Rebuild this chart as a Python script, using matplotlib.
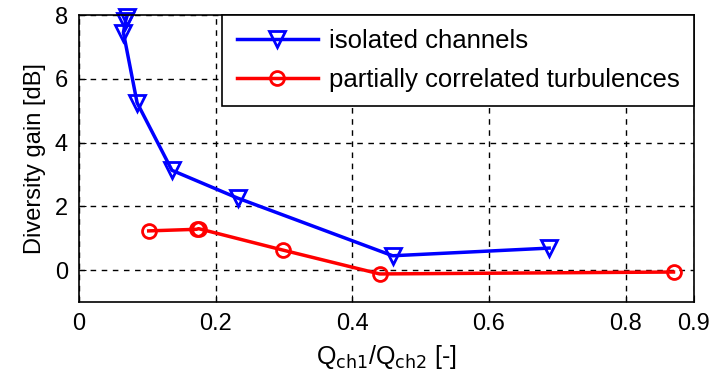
import matplotlib
matplotlib.use("Agg")
import matplotlib.pyplot as plt

# Data
iso_x = [0.070, 0.068, 0.065, 0.085, 0.136, 0.232, 0.459, 0.688]
iso_y = [7.95, 7.80, 7.45, 5.25, 3.13, 2.26, 0.45, 0.69]
cor_x = [0.102, 0.172, 0.175, 0.298, 0.440, 0.870]
cor_y = [1.23, 1.28, 1.30, 0.63, -0.12, -0.06]

xticks = [0, 0.2, 0.4, 0.6, 0.8, 0.9]
xticklabels = ["0", "0.2", "0.4", "0.6", "0.8", "0.9"]
yticks = [0, 2, 4, 6, 8]

plt.rcParams['font.family'] = ['Liberation Sans', 'DejaVu Sans']
fig = plt.figure(figsize=(7.12, 3.85), dpi=100)
ax = fig.add_axes([79/712, 1 - 302/385, (694-79)/712, (302-15)/385])

ax.plot(iso_x, iso_y, color='blue', lw=2.5, marker='v', ms=12, mfc='none',
        mec='blue', mew=2, label='isolated channels', clip_on=False)
ax.plot(cor_x, cor_y, color='red', lw=2.5, marker='o', ms=10, mfc='none',
        mec='red', mew=2, label='partially correlated turbulences', clip_on=False)

ax.set_xlim(0, 0.9)
ax.set_ylim(-1, 8)
ax.set_xticks(xticks)
ax.set_xticklabels(xticklabels)
ax.set_yticks(yticks)
ax.grid(True, color='black', linestyle=(0, (4, 4)), lw=1)
ax.tick_params(direction='in', labelsize=17, length=5, pad=8)
for s in ax.spines.values():
    s.set_linewidth(1.2)

ax.set_xlabel(r'Q$_{\mathrm{ch1}}$/Q$_{\mathrm{ch2}}$ [-]', fontsize=18, labelpad=6)
ax.set_ylabel('Diversity gain [dB]', fontsize=17, labelpad=6)

leg = ax.legend(loc='upper right', bbox_to_anchor=(1, 1), borderaxespad=0,
                fontsize=18.5, fancybox=False, framealpha=1, edgecolor='black',
                handlelength=3.15, handletextpad=0.45, borderpad=0.55,
                labelspacing=0.58)
leg.get_frame().set_linewidth(1.2)

fig.savefig('out.png', dpi=100)
